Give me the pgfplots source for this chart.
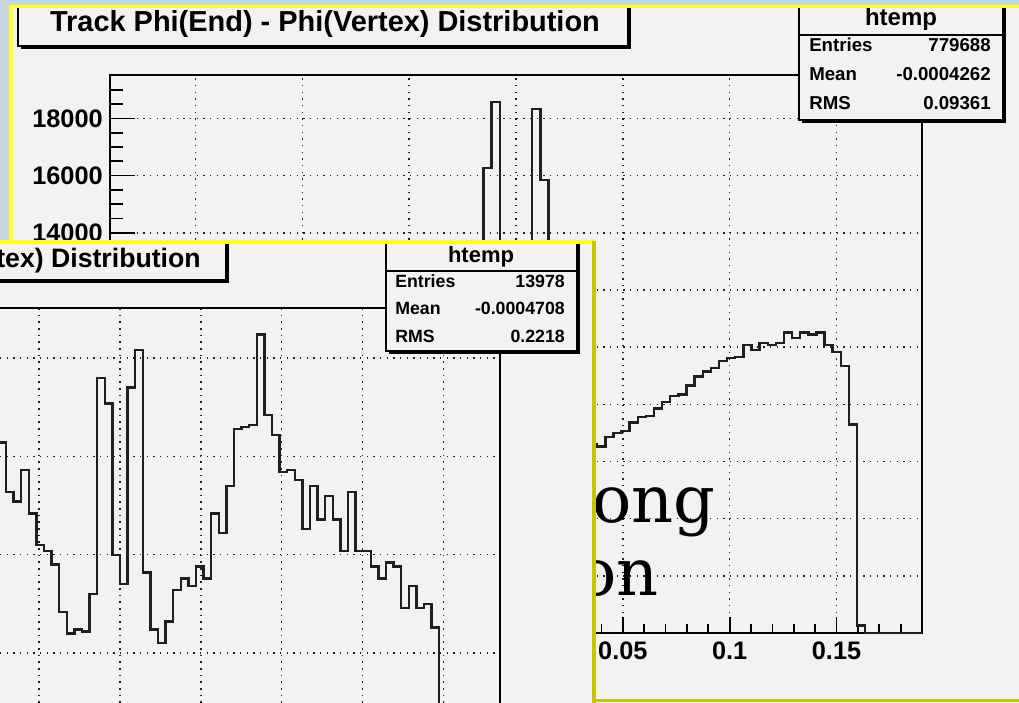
\documentclass[border=0pt]{standalone}
\usepackage{fontspec}
\setmainfont{Liberation Sans}
\newfontfamily\serifd{DejaVu Serif}
\usepackage{pgfplots}
\pgfplotsset{compat=1.18}

\definecolor{cbg}{HTML}{F2F2F2}
\definecolor{ylw}{HTML}{FFFF20}
\definecolor{ylwd}{HTML}{C8C400}
\definecolor{deskbg}{HTML}{C4D8DE}
\definecolor{gridc}{HTML}{202020}
\newcommand{\fs}[1]{\fontsize{#1}{#1}\selectfont\bfseries}

\pgfplotsset{
  rootaxis/.style={
    scale only axis,
    anchor=south west,
    axis line style={line width=1.5pt, black},
    tick align=inside,
    xtick pos=lower, ytick pos=left,
    grid=major,
    major grid style={gridc, line width=1.15pt, dash pattern=on 1.1pt off 3.9pt},
    every tick/.style={black, line width=1.3pt},
    scaled x ticks=false, scaled y ticks=false,
    /pgf/number format/assume math mode=true,
    tick label style={font=\fs{19}},
    xticklabel style={/pgf/number format/fixed, /pgf/number format/precision=2, inner sep=0pt, yshift=-6.5pt},
    yticklabel style={/pgf/number format/1000 sep={}, inner sep=0pt, xshift=-5.25pt},
  }
}

\begin{document}
\begin{tikzpicture}
\useasboundingbox (0,0) rectangle (764.25pt,-526.5pt);
\clip (0,0) rectangle (764.25pt,-526.5pt);

\begin{scope}[x=0.75pt,y=0.75pt]
\fill[deskbg] (0,0) rectangle (1019,-702);
% ---------------- back canvas ----------------
\fill[cbg] (10,-6) rectangle (1025,-710);
\end{scope}

\begin{axis}[rootaxis,
  at={(82.5pt,-474.75pt)}, width=609pt, height=418.5pt,
  xmin=-0.19, xmax=0.19, ymin=0, ymax=19520,
  xtick distance=0.05, ytick distance=2000,
  minor x tick num=4, minor y tick num=3,
  xtick style={/pgfplots/major tick length=12pt, /pgfplots/minor tick length=6.75pt},
  ytick style={/pgfplots/major tick length=18.75pt, /pgfplots/minor tick length=9.75pt},
]
\addplot[const plot, line width=1.8pt, black!88] coordinates {
(-0.19,0) (-0.1634,265) (-0.1596,7300) (-0.1558,9340) (-0.1520,9820) (-0.1482,10070)
(-0.1444,10510) (-0.1406,10440) (-0.1368,10510) (-0.1330,10310) (-0.1292,10510)
(-0.1254,10140) (-0.1216,10080) (-0.1178,10140) (-0.1140,9890) (-0.1102,10080)
(-0.1064,9650) (-0.1026,9630) (-0.0988,9520) (-0.0950,9280) (-0.0912,9150)
(-0.0874,8980) (-0.0836,8660) (-0.0798,8350) (-0.0760,8290) (-0.0722,8090)
(-0.0684,7850) (-0.0646,7600) (-0.0608,7550) (-0.0570,7360) (-0.0532,7060)
(-0.0494,6990) (-0.0456,6850) (-0.0418,6530) (-0.0380,6600) (-0.0342,6700)
(-0.0304,6800) (-0.0266,7200) (-0.0228,8200) (-0.0190,11000) (-0.0152,16270)
(-0.0114,18570) (-0.0076,9000) (-0.0038,5200) (0,5100) (0.0038,8800)
(0.0076,18330) (0.0114,15850) (0.0152,10800) (0.0190,8000) (0.0228,7100)
(0.0266,6800) (0.0304,6650) (0.0342,6600) (0.0380,6530) (0.0418,6850)
(0.0456,6990) (0.0494,7060) (0.0532,7360) (0.0570,7550) (0.0608,7600)
(0.0646,7850) (0.0684,8090) (0.0722,8290) (0.0760,8350) (0.0798,8660)
(0.0836,8980) (0.0874,9150) (0.0912,9280) (0.0950,9520) (0.0988,9630)
(0.1026,9650) (0.1064,10080) (0.1102,9890) (0.1140,10140) (0.1178,10080)
(0.1216,10140) (0.1254,10510) (0.1292,10310) (0.1330,10510) (0.1368,10440)
(0.1406,10510) (0.1444,10070) (0.1482,9820) (0.1520,9340) (0.1558,7300)
(0.1596,265) (0.1634,0) (0.19,0)
};
\end{axis}

\begin{scope}[x=0.75pt,y=0.75pt]
% back title box
\fill[cbg] (18,-6) rectangle (628,-46);
\draw[line width=1pt, black] (18,-6) rectangle (628,-46);
\fill[black] (21,-46) rectangle (631,-49);
\fill[black] (628,-8) rectangle (631,-49);
\node[anchor=base, inner sep=0pt, font=\fs{21.7}] at (325,-32) {Track Phi(End) - Phi(Vertex) Distribution};

% back stats box
\fill[cbg] (799,-6) rectangle (1003,-120);
\draw[line width=1pt, black] (799,-6) rectangle (1003,-120);
\fill[black] (802,-120) rectangle (1006,-123);
\fill[black] (1003,-8) rectangle (1006,-123);
\draw[line width=1pt, black] (799,-35) -- (1003,-35);
\node[anchor=base, inner sep=0pt, font=\fs{18}] at (901,-26) {htemp};
\node[anchor=base west, inner sep=0pt, font=\fs{14}] at (809,-52) {Entries};
\node[anchor=base east, inner sep=0pt, font=\fs{14}] at (991,-52) {779688};
\node[anchor=base west, inner sep=0pt, font=\fs{14}] at (809,-81) {Mean};
\node[anchor=base east, inner sep=0pt, font=\fs{14}] at (991,-81) {-0.0004262};
\node[anchor=base west, inner sep=0pt, font=\fs{14}] at (809,-110) {RMS};
\node[anchor=base east, inner sep=0pt, font=\fs{14}] at (991,-110) {0.09361};

% back canvas border
\draw[ylw, line width=2.5pt] (11,-710) -- (11,-6.7) -- (1025,-6.7);
\draw[ylwd, line width=2.5pt] (10,-700.8) -- (1025,-700.8);

% overlay text
\node[anchor=base east, inner sep=0pt, font=\serifd\fontsize{49}{49}\selectfont] at (716,-522) {Wrong};
\node[anchor=base east, inner sep=0pt, font=\serifd\fontsize{49}{49}\selectfont] at (659,-595) {Distribution};

% ---------------- front canvas ----------------
\fill[cbg] (-20,-240) rectangle (594,-720);
\end{scope}

\begin{axis}[rootaxis,
  at={(-195pt,-637.2pt)}, width=570pt, height=406.2pt,
  xmin=-0.47, xmax=0.47, ymin=0, ymax=275.5,
  xtick distance=0.1, ytick distance=50,
]
\addplot[const plot, line width=1.8pt, black!88] coordinates {
(-0.47,0) (-0.3948,113) (-0.3854,125) (-0.3760,123) (-0.3666,134) (-0.3572,123)
(-0.3478,144) (-0.3384,146) (-0.3290,138) (-0.3196,144) (-0.3102,152) (-0.3008,152)
(-0.2914,182) (-0.2820,152) (-0.2726,168) (-0.2632,180) (-0.2538,168) (-0.2444,185)
(-0.2350,163) (-0.2256,188) (-0.2162,193) (-0.2068,192) (-0.1974,211) (-0.1880,220)
(-0.1786,215) (-0.1692,216) (-0.1598,212) (-0.1504,207) (-0.1410,182) (-0.1316,177)
(-0.1222,193) (-0.1128,171) (-0.1034,155) (-0.0940,152) (-0.0846,145) (-0.0752,121)
(-0.0658,110) (-0.0564,112) (-0.0470,111) (-0.0376,130) (-0.0282,240) (-0.0188,227)
(-0.0094,150) (0,135) (0.0094,235) (0.0188,254) (0.0282,141) (0.0376,112)
(0.0470,105) (0.0564,116) (0.0658,132) (0.0752,138) (0.0846,134) (0.0940,144)
(0.1034,138) (0.1128,171) (0.1222,161) (0.1316,185) (0.1410,214) (0.1504,215)
(0.1598,216) (0.1692,262) (0.1786,221) (0.1880,211) (0.1974,192) (0.2068,193)
(0.2162,188) (0.2256,163) (0.2350,185) (0.2444,168) (0.2538,180) (0.2632,168)
(0.2726,152) (0.2820,182) (0.2914,152) (0.3008,152) (0.3102,144) (0.3196,138)
(0.3290,146) (0.3384,144) (0.3478,123) (0.3572,134) (0.3666,123) (0.3760,125)
(0.3854,113) (0.3948,0) (0.47,0)
};
\end{axis}

\begin{scope}[x=0.75pt,y=0.75pt]
% front title box
\fill[cbg] (-400,-242) rectangle (226,-280);
\draw[line width=1pt, black] (-400,-242) rectangle (226,-280);
\fill[black] (-397,-280) rectangle (229,-283);
\fill[black] (226,-244) rectangle (229,-283);
\node[anchor=base east, inner sep=0pt, font=\fs{20}] at (201,-267) {Track Phi(End) - Phi(Vertex) Distribution};

% front stats box
\fill[cbg] (386,-242) rectangle (577,-351);
\draw[line width=1pt, black] (386,-242) rectangle (577,-351);
\fill[black] (389,-351) rectangle (580,-354);
\fill[black] (577,-244) rectangle (580,-354);
\draw[line width=1pt, black] (386,-271) -- (577,-271);
\node[anchor=base, inner sep=0pt, font=\fs{16.5}] at (481,-262) {htemp};
\node[anchor=base west, inner sep=0pt, font=\fs{13.3}] at (395,-287) {Entries};
\node[anchor=base east, inner sep=0pt, font=\fs{13.3}] at (565,-287) {13978};
\node[anchor=base west, inner sep=0pt, font=\fs{13.3}] at (395,-314) {Mean};
\node[anchor=base east, inner sep=0pt, font=\fs{13.3}] at (565,-314) {-0.0004708};
\node[anchor=base west, inner sep=0pt, font=\fs{13.3}] at (395,-342) {RMS};
\node[anchor=base east, inner sep=0pt, font=\fs{13.3}] at (565,-342) {0.2218};

% front canvas border
\draw[ylw, line width=2.8pt] (-20,-242) -- (594,-242);
\draw[ylwd, line width=2.5pt] (594,-240.6) -- (594,-720);
\end{scope}
\end{tikzpicture}
\end{document}
